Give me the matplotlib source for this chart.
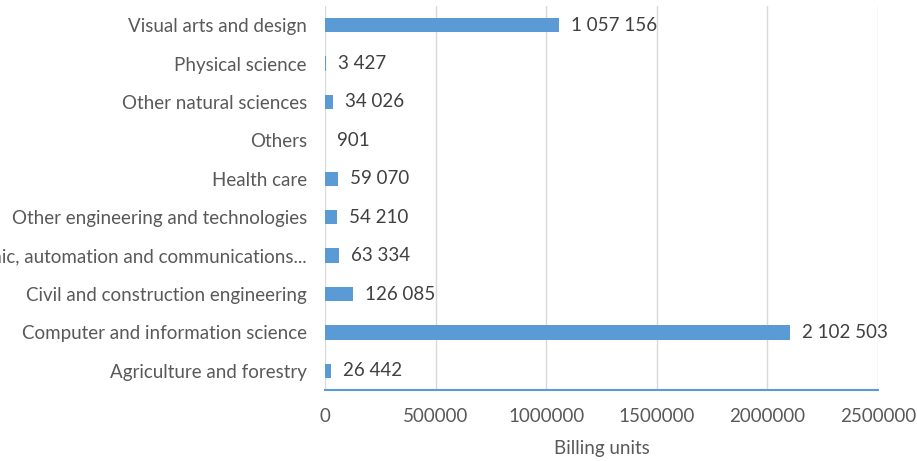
import matplotlib
matplotlib.use("Agg")
import matplotlib.pyplot as plt

categories = [
    "Agriculture and forestry",
    "Computer and information science",
    "Civil and construction engineering",
    "Electronic, automation and communications...",
    "Other engineering and technologies",
    "Health care",
    "Others",
    "Other natural sciences",
    "Physical science",
    "Visual arts and design",
]
values = [26442, 2102503, 126085, 63334, 54210, 59070, 901, 34026, 3427, 1057156]
xticks = [0, 500000, 1000000, 1500000, 2000000, 2500000]

plt.rcParams['font.family'] = ['Lato', 'DejaVu Sans']

fig = plt.figure(figsize=(9.17, 4.61), dpi=100)
ax = fig.add_axes([325/917, 1-390/461, (878-325)/917, (390-6)/461])

fs = 13.5
y = list(range(len(categories)))
ax.barh(y, values, height=0.37, color="#5B9BD5", zorder=3)
ax.set_ylim(-0.5, len(categories)-0.5)
ax.set_xlim(0, 2500000)
ax.set_xticks(xticks)
ax.set_xticklabels([str(t) for t in xticks])
ax.set_yticks(y)
ax.set_yticklabels(categories)
ax.tick_params(axis='both', length=0, labelsize=fs, colors="#595959")
ax.tick_params(axis='x', pad=13)
ax.tick_params(axis='y', pad=13)
ax.grid(axis='x', color="#D9D9D9", linewidth=1, zorder=0)
for s in ['top', 'right', 'left']:
    ax.spines[s].set_visible(False)
ax.spines['bottom'].set_color("#5B9BD5")
ax.spines['bottom'].set_linewidth(1.5)
ax.spines['bottom'].set_zorder(4)

for yi, v in zip(y, values):
    ax.text(v + 55000, yi, f"{v:,}".replace(",", " "), va='center', ha='left',
            fontsize=fs, color="#404040", zorder=5)

ax.set_xlabel("Billing units", fontsize=fs, color="#595959", labelpad=11)

fig.savefig("out.png", dpi=100)
